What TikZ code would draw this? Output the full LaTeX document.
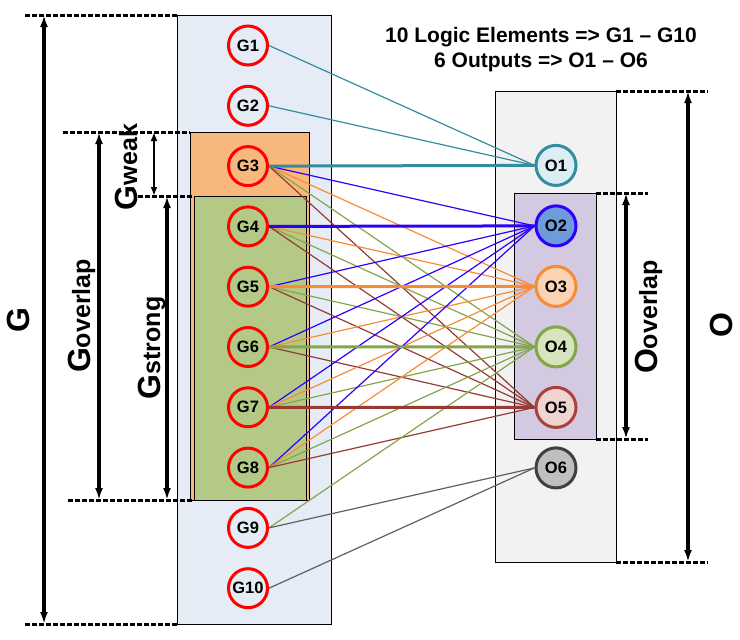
\documentclass[tikz,border=0pt]{standalone}
\usepackage{fontspec}
\setmainfont{Liberation Sans}
\usepackage{xcolor}
\usepackage{tikz}
\usetikzlibrary{arrows.meta}

\definecolor{gboxfill}{RGB}{230,236,245}
\definecolor{weakfill}{RGB}{248,184,124}
\definecolor{strongfill}{RGB}{181,201,134}
\definecolor{oboxfill}{RGB}{242,242,242}
\definecolor{ovlfill}{RGB}{211,201,224}
\definecolor{cteal}{RGB}{52,140,160}
\definecolor{cblue}{RGB}{45,0,250}
\definecolor{corange}{RGB}{247,140,55}
\definecolor{cgreen}{RGB}{132,165,72}
\definecolor{cbrown}{RGB}{152,58,52}
\definecolor{cgray}{RGB}{95,95,95}
\definecolor{ofillA}{RGB}{218,238,243}
\definecolor{ofillB}{RGB}{110,155,220}
\definecolor{ofillC}{RGB}{251,212,180}
\definecolor{ofillD}{RGB}{215,228,189}
\definecolor{ofillE}{RGB}{240,212,208}
\definecolor{ofillF}{RGB}{191,191,191}
\definecolor{odrawE}{RGB}{170,65,60}
\definecolor{odrawF}{RGB}{64,64,64}

\newcommand{\setlbl}[2]{{\fontsize{32}{34}\selectfont #1}{\fontsize{25}{27}\selectfont #2}}

\tikzset{
  gnode/.style={circle, draw=red, line width=3pt, minimum size=39pt, inner sep=0pt,
    font=\fontsize{16.5}{17}\selectfont\bfseries},
  onode/.style={circle, line width=3pt, minimum size=40pt, inner sep=0pt,
    font=\fontsize{16.5}{17}\selectfont\bfseries},
  link/.style={line width=1.2pt},
  mainlink/.style={line width=3pt},
  guide/.style={line width=3pt, dash pattern=on 4.5pt off 2.5pt},
  dimarrow/.style={line width=3.5pt, {Latex[length=12pt,width=8pt]}-{Latex[length=12pt,width=8pt]}},
  dimlbl/.style={rotate=90, anchor=base, inner sep=0pt, font=\bfseries},
}

\begin{document}
\begin{tikzpicture}[x=1pt, y=-1pt]
  \useasboundingbox (0,0) rectangle (740,640);

  \draw[line width=1pt, fill=gboxfill] (177,15) rectangle (331,624);
  \draw[line width=1pt, fill=weakfill] (190,132) rectangle (309,500);
  \draw[line width=1pt, fill=strongfill] (194,196) rectangle (306,500);
  \draw[line width=1pt, fill=oboxfill] (495,91) rectangle (616,562);
  \draw[line width=1pt, fill=ovlfill] (514,193) rectangle (596,439);

  \draw[guide] (25,15) -- (177,15);
  \draw[guide] (25,624) -- (177,624);
  \draw[guide] (63,132) -- (190,132);
  \draw[guide] (138,196) -- (194,196);
  \draw[guide] (68,500) -- (194,500);
  \draw[guide] (616,91) -- (708,91);
  \draw[guide] (616,562) -- (708,562);
  \draw[guide] (596,193) -- (648,193);
  \draw[guide] (596,439) -- (648,439);

  \foreach \n/\x/\a/\b in {g/44/15/624, gov/99/132/500, gst/167/196/500, o/688/91/562, oov/626/193/439} {
    \coordinate (\n top) at (\x,\a);
    \coordinate (\n bot) at (\x,\b);
    \draw[dimarrow] (\n top) -- (\n bot);
  }
  \coordinate (gwk top) at (154,132);
  \coordinate (gwk bot) at (154,196);
  \draw[line width=1.8pt, {Latex[length=9pt,width=7pt]}-{Latex[length=9pt,width=7pt]}] (gwk top) -- (gwk bot);

  \node[dimlbl] (lblG) at (29,320) {\setlbl{G}{}};
  \node[dimlbl] (lblGov) at (90,316) {\setlbl{G}{overlap}};
  \node[dimlbl] (lblGwk) at (137,167) {\setlbl{G}{weak}};
  \node[dimlbl] (lblGst) at (160,348) {\setlbl{G}{strong}};
  \node[dimlbl] (lblO) at (732,325) {\setlbl{O}{}};
  \node[dimlbl] (lblOov) at (657,317) {\setlbl{O}{overlap}};

  \node[anchor=base, font=\fontsize{21}{24}\selectfont\bfseries] (title1) at (541,42) {10 Logic Elements => G1 – G10};
  \node[anchor=base, font=\fontsize{21}{24}\selectfont\bfseries] (title2) at (541,67) {6 Outputs => O1 – O6};

  \foreach \i in {1,...,10}
    \node[gnode] (G\i) at (248,{45.5+60.3*(\i-1)}) {G\i};
  \foreach \j/\c/\f in {1/cteal/ofillA, 2/cblue/ofillB, 3/corange/ofillC, 4/cgreen/ofillD, 5/odrawE/ofillE, 6/odrawF/ofillF}
    \node[onode, draw=\c, fill=\f] (O\j) at (556,{165.4+60.5*(\j-1)}) {O\j};

  \draw[link, cteal] (G1.east) -- (O1.west);
  \draw[link, cteal] (G2.east) -- (O1.west);
  \foreach \g in {3,...,8} {
    \draw[link, cblue] (G\g.east) -- (O2.west);
    \draw[link, corange] (G\g.east) -- (O3.west);
    \draw[link, cgreen] (G\g.east) -- (O4.west);
    \draw[link, cbrown] (G\g.east) -- (O5.west);
  }
  \draw[link, cgreen] (G9.east) -- (O4.west);
  \draw[link, cgray] (G9.east) -- (O6.west);
  \draw[link, cgray] (G10.east) -- (O6.west);
  \foreach \g/\o/\c in {3/1/cteal, 4/2/cblue, 5/3/corange, 6/4/cgreen, 7/5/cbrown}
    \draw[mainlink, \c] (G\g.east) -- (O\o.west);
\end{tikzpicture}
\end{document}
